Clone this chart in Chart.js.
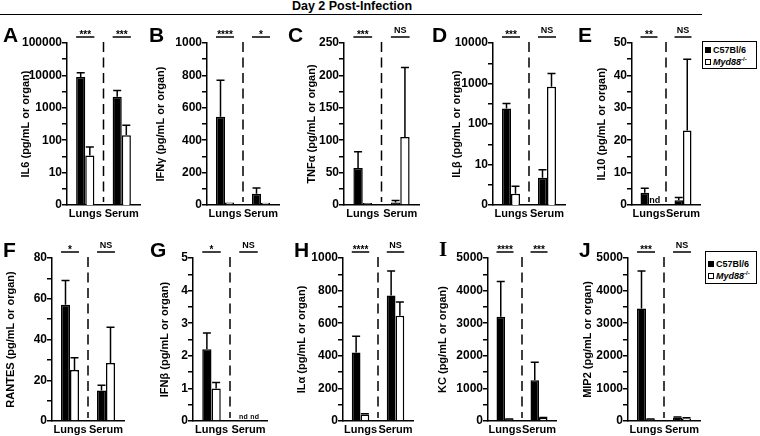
<!DOCTYPE html>
<html>
<head>
<meta charset="utf-8">
<script src="https://cdn.jsdelivr.net/npm/chart.js@4.4.0/dist/chart.umd.min.js"></script>
<style>
  body { margin: 0; width: 760px; height: 436px; position: relative; overflow: hidden; background: #fff; font-family: "Liberation Sans", Arial, sans-serif; }
  canvas { position: absolute; }
  #title { position: absolute; left: 0; top: -1px; width: 704px; text-align: center; font: bold 12.5px "Liberation Sans", Arial, sans-serif; }
  #rule { position: absolute; left: 0; top: 14px; width: 702px; height: 0; border-top: 1.5px solid #000; }
  .letter { position: absolute; font: bold 21px/1 "Liberation Sans", Arial, sans-serif; }
  .legend { position: absolute; border: 1.5px solid #000; box-sizing: border-box; background: #fff; }
  .item { position: absolute; left: 2px; font: bold 9px/10px "Liberation Sans", Arial, sans-serif; white-space: nowrap; }
  .sw { display: inline-block; width: 4px; height: 4px; border: 1px solid #000; margin-right: 2px; vertical-align: 0; }
  .item sup { font-size: 6px; line-height: 0; }
</style>
</head>
<body>
<div id="title">Day 2 Post-Infection</div>
<div id="rule"></div>

<div class="legend" style="left:702px;top:41px;width:55px;height:28px">
  <div class="item" style="top:3px"><span class="sw" style="background:#000"></span>C57Bl/6</div>
  <div class="item" style="top:15px"><span class="sw"></span><i>Myd88</i><sup>-/-</sup></div>
</div>
<div class="legend" style="left:705px;top:251px;width:52px;height:33px">
  <div class="item" style="top:7px"><span class="sw" style="background:#000"></span>C57Bl/6</div>
  <div class="item" style="top:19px"><span class="sw"></span><i>Myd88</i><sup>-/-</sup></div>
</div>

<script>
// categories on every panel
const categories = ['Lungs', 'Serum'];

// values: mean per group and upper error (SEM)
const il6Wt = [9000, 2200], il6WtErr = [3000, 1200];
const il6Ko = [34, 142], il6KoErr = [28, 146];
const ifngWt = [545, 70], ifngWtErr = [225, 35];
const ifngKo = [15, 14], ifngKoErr = [0, 0];
const tnfWt = [57, 4], tnfWtErr = [25, 3];
const tnfKo = [3, 105], tnfKoErr = [0, 107];
const ilbWt = [243, 4.7], ilbWtErr = [79, 2.7];
const ilbKo = [1.9, 826], ilbKoErr = [1.0, 944];
const il10Wt = [3.8, 1.5], il10WtErr = [1.4, 0.8];
const il10Ko = [null, 23], il10KoErr = [0, 22];
const rantesWt = [57, 15], rantesWtErr = [12, 2.5];
const rantesKo = [25, 28.5], rantesKoErr = [6, 17.5];
const ifnbWt = [2.2, null], ifnbWtErr = [0.5, 0];
const ifnbKo = [1.0, null], ifnbKoErr = [0.18, 0];
const ilaWt = [420, 770], ilaWtErr = [100, 150];
const ilaKo = [40, 645], ilaKoErr = [5, 85];
const kcWt = [3200, 1250], kcWtErr = [1080, 550];
const kcKo = [50, 90], kcKoErr = [10, 20];
const mip2Wt = [3450, 100], mip2WtErr = [1150, 25];
const mip2Ko = [50, 80], mip2KoErr = [10, 20];

// labelled y ticks (log axes: 1 is shown as "0")
const il6Ticks = [1, 10, 100, 1000, 10000, 100000];
const ifngTicks = [0, 200, 400, 600, 800, 1000];
const tnfTicks = [0, 50, 100, 150, 200, 250];
const ilbTicks = [1, 10, 100, 1000, 10000];
const il10Ticks = [0, 10, 20, 30, 40, 50];
const rantesTicks = [0, 20, 40, 60, 80];
const ifnbTicks = [0, 1, 2, 3, 4, 5];
const ilaTicks = [0, 200, 400, 600, 800, 1000];
const kcTicks = [0, 1000, 2000, 3000, 4000, 5000];
const mip2Ticks = [0, 1000, 2000, 3000, 4000, 5000];

// significance marks, lungs then serum
const il6Sig = ['***', '***'];
const ifngSig = ['****', '*'];
const tnfSig = ['***', 'NS'];
const ilbSig = ['***', 'NS'];
const il10Sig = ['**', 'NS'];
const rantesSig = ['*', 'NS'];
const ifnbSig = ['*', 'NS'];
const ilaSig = ['****', 'NS'];
const kcSig = ['****', '***'];
const mip2Sig = ['***', 'NS'];

const FONT = "'Liberation Sans', Arial, Helvetica, sans-serif";
Chart.defaults.font.family = FONT;
Chart.defaults.color = '#000';

const Y_W = 60, TOP_PAD = 26, X_H = 20, R_PAD = 3;
const rows = [{ top: 43, bottom: 205 }, { top: 258, bottom: 421 }];

const panels = [
    { id: 'A', row: 0, axisX: 67, w: 73, tOff: 41, lx: 3, log: true, title: 'IL6 (pg/mL or organ)', wt: il6Wt, wtErr: il6WtErr, ko: il6Ko, koErr: il6KoErr, ticks: il6Ticks, sig: il6Sig },
    { id: 'B', row: 0, axisX: 207, w: 72, tOff: 46.5, lx: 149, log: false, title: 'IFNγ (pg/mL or organ)', wt: ifngWt, wtErr: ifngWtErr, ko: ifngKo, koErr: ifngKoErr, ticks: ifngTicks, sig: ifngSig },
    { id: 'C', row: 0, axisX: 344, w: 75, tOff: 32, lx: 288, log: false, title: 'TNFα (pg/mL or organ)', wt: tnfWt, wtErr: tnfWtErr, ko: tnfKo, koErr: tnfKoErr, ticks: tnfTicks, sig: tnfSig },
    { id: 'D', row: 0, axisX: 493, w: 72, tOff: 36, lx: 432, log: true, title: 'ILβ (pg/mL or organ)', wt: ilbWt, wtErr: ilbWtErr, ko: ilbKo, koErr: ilbKoErr, ticks: ilbTicks, sig: ilbSig },
    { id: 'E', row: 0, axisX: 632, w: 68, tOff: 30, lx: 578, log: false, title: 'IL10 (pg/mL or organ)', wt: il10Wt, wtErr: il10WtErr, ko: il10Ko, koErr: il10KoErr, ticks: il10Ticks, sig: il10Sig, nd: 9 },
    { id: 'F', row: 1, axisX: 52, w: 72, tOff: 41.5, lx: 3, log: false, title: 'RANTES (pg/mL or organ)', wt: rantesWt, wtErr: rantesWtErr, ko: rantesKo, koErr: rantesKoErr, ticks: rantesTicks, sig: rantesSig },
    { id: 'G', row: 1, axisX: 193, w: 74, tOff: 28, lx: 150, log: false, title: 'IFNβ (pg/mL or organ)', wt: ifnbWt, wtErr: ifnbWtErr, ko: ifnbKo, koErr: ifnbKoErr, ticks: ifnbTicks, sig: ifnbSig, nd: 7 },
    { id: 'H', row: 1, axisX: 343, w: 70, tOff: 41.5, lx: 294, log: false, title: 'ILα (pg/mL or organ)', wt: ilaWt, wtErr: ilaWtErr, ko: ilaKo, koErr: ilaKoErr, ticks: ilaTicks, sig: ilaSig },
    { id: 'I', row: 1, axisX: 488, w: 68, tOff: 45, lx: 439, log: false, title: 'KC (pg/mL or organ)', wt: kcWt, wtErr: kcWtErr, ko: kcKo, koErr: kcKoErr, ticks: kcTicks, sig: kcSig },
    { id: 'J', row: 1, axisX: 628, w: 72, tOff: 40, lx: 579, log: false, title: 'MIP2 (pg/mL or organ)', wt: mip2Wt, wtErr: mip2WtErr, ko: mip2Ko, koErr: mip2KoErr, ticks: mip2Ticks, sig: mip2Sig }
];

// unlabelled minor tick halfway between labelled ones (geometric on log axes)
function withMinor(majors, log) {
    const out = [];
    majors.forEach((v, i) => {
        out.push(v);
        if (i < majors.length - 1) {
            const n = majors[i + 1];
            out.push(log ? Math.sqrt(v * n) : (v + n) / 2);
        }
    });
    return out;
}

// error bars, separator, significance bars, "nd"
const annot = {
    id: 'annot',
    afterDatasetsDraw(chart, args, opts) {
        const ctx = chart.ctx;
        const xs = chart.scales.x, ys = chart.scales.y, area = chart.chartArea;
        ctx.save();
        ctx.strokeStyle = '#000';
        ctx.fillStyle = '#000';
        ctx.lineWidth = 1.5;
        ctx.textAlign = 'center';

        chart.data.datasets.forEach((ds, di) => {
            const meta = chart.getDatasetMeta(di);
            ds.data.forEach((v, i) => {
                const bar = meta.data[i];
                if (v === null) {
                    ctx.font = 'bold ' + opts.nd + 'px ' + FONT;
                    ctx.textBaseline = 'alphabetic';
                    ctx.fillText('nd', bar.x + (di === 0 ? -0.5 : 1.5), area.bottom - 2);
                    return;
                }
                const e = ds.err[i];
                if (!e) return;
                const y0 = ys.getPixelForValue(v);
                const y1 = ys.getPixelForValue(v + e);
                ctx.beginPath();
                ctx.moveTo(bar.x, y0);
                ctx.lineTo(bar.x, y1);
                ctx.moveTo(bar.x - 4, y1);
                ctx.lineTo(bar.x + 4, y1);
                ctx.stroke();
            });
        });

        const mid = (xs.getPixelForValue(0) + xs.getPixelForValue(1)) / 2;
        ctx.setLineDash([10, 5.5]);
        ctx.beginPath();
        ctx.moveTo(mid, area.top - 1);
        ctx.lineTo(mid, area.bottom - 3);
        ctx.stroke();
        ctx.setLineDash([]);

        const m0 = chart.getDatasetMeta(0);
        opts.sig.forEach((s, i) => {
            const cx = xs.getPixelForValue(i);
            const half = m0.data[i].width;
            const ly = area.top - 6;
            ctx.beginPath();
            ctx.moveTo(cx - half, ly);
            ctx.lineTo(cx + half, ly);
            ctx.stroke();
            ctx.textBaseline = 'alphabetic';
            if (s === 'NS') {
                ctx.font = 'bold 9px ' + FONT;
                ctx.fillText(s, cx, ly - 4);
            } else {
                ctx.font = 'bold 10px ' + FONT;
                ctx.fillText(s, cx, ly + 1);
            }
        });
        ctx.restore();
    }
};

panels.forEach(p => {
    const r = rows[p.row];
    const cv = document.createElement('canvas');
    cv.width = Y_W + p.w + R_PAD;
    cv.height = TOP_PAD + (r.bottom - r.top) + X_H;
    cv.style.left = (p.axisX - Y_W) + 'px';
    cv.style.top = (r.top - TOP_PAD) + 'px';
    document.body.appendChild(cv);

    const letter = document.createElement('div');
    letter.className = 'letter';
    letter.textContent = p.id;
    letter.style.left = p.lx + 'px';
    letter.style.top = (r.top - 19) + 'px';
    if (p.id === 'I') letter.style.fontFamily = "'Liberation Serif', serif";
    document.body.appendChild(letter);

    const allTicks = withMinor(p.ticks, p.log);

    new Chart(cv, {
        type: 'bar',
        data: {
            labels: categories,
            datasets: [
                { label: 'C57Bl/6', data: p.wt, err: p.wtErr, backgroundColor: '#000', borderColor: '#000', borderWidth: 1.5 },
                { label: 'Myd88-/-', data: p.ko, err: p.koErr, backgroundColor: '#fff', borderColor: '#000', borderWidth: 1.5 }
            ]
        },
        options: {
            responsive: false,
            animation: false,
            events: [],
            layout: { padding: { top: TOP_PAD, right: R_PAD, left: 0, bottom: 0 } },
            datasets: { bar: { barPercentage: 1, categoryPercentage: 0.5 } },
            plugins: {
                legend: { display: false },
                tooltip: { enabled: false },
                annot: { sig: p.sig, nd: p.nd || 9 }
            },
            scales: {
                x: {
                    type: 'category',
                    afterFit: s => { s.height = X_H; },
                    grid: { display: false, drawTicks: false },
                    border: { display: true, color: '#000', width: 1.5 },
                    ticks: { font: { size: 11, weight: 'bold' }, color: '#000', padding: 2, autoSkip: false, maxRotation: 0 }
                },
                y: {
                    type: p.log ? 'logarithmic' : 'linear',
                    min: p.ticks[0],
                    max: p.ticks[p.ticks.length - 1],
                    afterBuildTicks: s => { s.ticks = allTicks.map(v => ({ value: v })); },
                    afterFit: s => { s.width = Y_W; },
                    grid: { drawOnChartArea: false, drawTicks: true, tickLength: 5, color: '#000', lineWidth: 1.5 },
                    border: { display: true, color: '#000', width: 1.5 },
                    ticks: {
                        font: { size: 12, weight: 'bold' },
                        color: '#000',
                        padding: 0,
                        autoSkip: false,
                        callback: v => p.ticks.includes(v) ? (p.log && v === 1 ? '0' : String(v)) : ''
                    },
                    title: {
                        display: true,
                        text: p.title,
                        color: '#000',
                        font: { size: 11, weight: 'bold' },
                        padding: { top: Y_W - p.tOff - 6.6, bottom: 0 }
                    }
                }
            }
        },
        plugins: [annot]
    });
});
</script>
</body>
</html>
